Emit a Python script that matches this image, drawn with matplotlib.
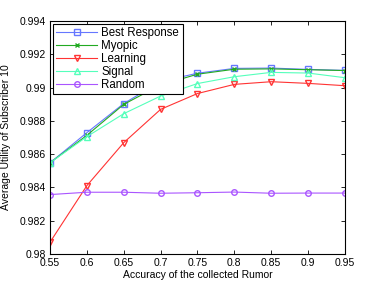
import numpy as np
import matplotlib
matplotlib.use('Agg')
import matplotlib.pyplot as plt

plt.rcParams['font.family'] = ['Liberation Sans', 'DejaVu Sans']

# accuracy of the collected rumor
accuracy = [0.55, 0.6, 0.65, 0.7, 0.75, 0.8, 0.85, 0.9, 0.95]

best_response = [0.98548, 0.98729, 0.98904, 0.99036, 0.99086, 0.99115, 0.99117, 0.99109, 0.99103]
myopic = [0.98548, 0.98713, 0.98899, 0.99016, 0.99080, 0.99110, 0.99112, 0.99107, 0.99102]
learning = [0.98071, 0.98411, 0.98669, 0.98869, 0.98964, 0.99019, 0.99035, 0.99025, 0.99011]
signal = [0.98548, 0.98705, 0.98843, 0.98949, 0.99024, 0.99065, 0.99091, 0.99087, 0.99059]
random_ = [0.98357, 0.98371, 0.98371, 0.98365, 0.98368, 0.98372, 0.98365, 0.98366, 0.98366]

yticks = [0.98, 0.982, 0.984, 0.986, 0.988, 0.99, 0.992, 0.994]
xticks = [0.55, 0.6, 0.65, 0.7, 0.75, 0.8, 0.85, 0.9, 0.95]

fig = plt.figure(figsize=(3.82, 2.87), dpi=100)
ax = fig.add_axes([0.131, 0.115, 0.772, 0.812])

ms = 4
lw = 0.8
ax.plot(accuracy, best_response, '-s', color='#6677ff', mfc='none', ms=ms, lw=lw, label='Best Response')
ax.plot(accuracy, myopic, '-x', color='#22aa22', ms=3, lw=lw, label='Myopic')
ax.plot(accuracy, learning, '-v', color='#ff3333', mfc='none', ms=ms, lw=lw, label='Learning')
ax.plot(accuracy, signal, '-^', color='#55ffbb', mfc='none', ms=ms, lw=lw, label='Signal')
ax.plot(accuracy, random_, '-o', color='#aa55ff', mfc='none', ms=ms, lw=lw, label='Random')

ax.set_xlim(0.55, 0.95)
ax.set_ylim(0.98, 0.994)
ax.set_xticks(xticks)
ax.set_xticklabels([f'{v:g}' for v in xticks])
ax.set_yticks(yticks)
ax.set_yticklabels([f'{v:g}' for v in yticks])
ax.tick_params(direction='in', labelsize=7.5, length=3, width=0.6, top=True, right=True, pad=3)
for s in ax.spines.values():
    s.set_linewidth(0.8)

ax.set_xlabel('Accuracy of the collected Rumor', fontsize=7.5, labelpad=1)
ax.set_ylabel('Average Utility of Subscriber 10', fontsize=7.5, labelpad=6)

leg = ax.legend(loc='upper left', fontsize=8.3, fancybox=False, framealpha=1,
                edgecolor='black', borderaxespad=0.25, handlelength=3.5,
                labelspacing=0.08, borderpad=0.3, handletextpad=0.4)
leg.get_frame().set_linewidth(0.8)

fig.savefig('out.png', dpi=100)
